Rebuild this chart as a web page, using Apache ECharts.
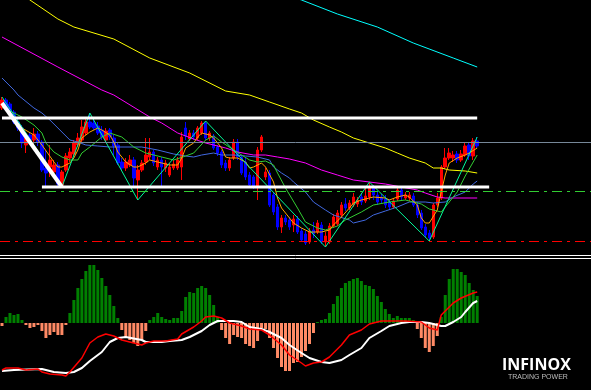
<!DOCTYPE html>
<html>
<head>
<meta charset="utf-8">
<script src="https://cdn.jsdelivr.net/npm/echarts@6/dist/echarts.min.js"></script>
<style>
html,body{margin:0;padding:0;background:#000;}
#c{width:591px;height:390px;}
</style>
</head>
<body>
<div id="c"></div>
<script>
// ---- DATA ----
const categories = Array.from({length: 148}, (_, i) => 'Bar ' + (i + 1));

const opens = [192,200,196,188,178,172,155,165,160,166,
158,132,133,128,135,115,130,142,146,155,
160,167,178,177,174,170,160,170,162,155,
138,132,135,140,120,130,138,143,148,133,
140,132,125,132,132,133,172,161,167,162,
167,177,162,164,153,148,137,132,142,158,
143,138,125,123,113,150,123,127,105,93,
73,82,80,75,81,69,66,58,70,68,
75,58,58,74,76,85,96,92,95,96,
103,99,103,112,105,103,101,98,93,101,
110,102,102,104,95,87,73,67,63,95,
102,133,142,142,146,140,145,155,144,159];
const closes = [200,193,188,178,172,157,162,160,166,158,
130,127,140,135,116,128,144,148,157,162,
173,178,173,172,167,163,169,163,154,137,
132,138,140,122,130,137,145,148,137,140,
133,137,133,136,140,163,164,167,163,172,
177,162,167,152,147,135,132,140,158,143,
127,123,115,113,150,163,128,95,88,73,
82,78,73,81,68,60,57,69,66,77,
58,64,74,83,87,95,92,97,103,100,
98,104,113,105,98,100,95,93,99,110,
103,105,105,95,85,72,65,62,95,102,
133,142,147,145,140,146,154,144,159,154];
const lows = [190,191,186,176,169,152,147,157,154,154,
128,113,123,124,113,113,128,138,144,153,
158,165,171,170,165,160,158,160,145,135,
130,129,133,113,100,128,135,140,134,130,
113,128,123,130,130,120,160,159,160,160,
165,160,159,150,144,132,129,129,140,140,
125,120,113,111,100,148,120,93,85,70,
67,75,70,68,66,58,55,56,62,66,
56,53,56,72,74,82,89,90,93,93,
95,97,100,100,95,97,92,90,91,99,
100,100,99,93,82,70,62,59,61,93,
100,131,140,138,137,138,143,140,140,152];
const highs = [203,202,198,190,182,175,167,168,172,169,
160,150,155,140,138,130,147,152,160,167,
180,181,187,180,178,174,172,172,165,157,
142,142,145,143,135,140,162,162,150,143,
143,140,137,140,143,168,178,170,170,174,
179,179,169,166,155,150,140,143,161,161,
145,142,128,125,153,165,132,130,108,96,
85,85,83,85,84,72,69,72,78,80,
78,68,77,86,90,98,102,100,107,103,
107,113,118,115,108,106,105,101,102,112,
112,108,108,107,98,90,76,70,97,107,
135,152,152,149,149,150,157,157,162,163];

// moving averages: [bar index, level]
const orangeMA = [[0,195],[1,192],[5,172],[8,165],[10,155],[13,138],[14,133],[15,133],[17,137],[18,142],[19,150],[20,162],[22,168],[24,172],[25,170],[27,165],[28,158],[29,148],[31,138],[33,133],[34,133],[36,137],[37,140],[39,138],[40,137],[42,135],[44,135],[45,142],[46,152],[48,157],[49,163],[50,167],[52,165],[53,162],[55,152],[56,143],[57,142],[59,142],[61,138],[62,132],[63,133],[65,137],[66,133],[68,118],[69,102],[70,92],[72,82],[73,77],[75,72],[77,68],[78,68],[80,68],[82,70],[83,75],[85,83],[87,92],[88,97],[90,100],[92,102],[93,103],[96,102],[97,100],[99,103],[101,105],[102,103],[104,95],[105,82],[106,77],[107,77],[109,90],[110,108],[111,125],[112,137],[114,142],[116,145],[117,147],[119,152]];
const greenMA = [[0,193],[5,183],[8,175],[10,167],[11,157],[13,148],[15,143],[17,140],[19,140],[20,147],[22,153],[25,163],[27,167],[30,163],[33,153],[36,147],[40,143],[43,140],[46,144],[48,147],[51,160],[53,164],[55,158],[58,150],[62,140],[64,138],[66,139],[68,135],[69,127],[71,112],[74,92],[76,78],[79,72],[81,70],[84,74],[86,80],[90,88],[93,95],[97,98],[101,100],[105,96],[107,91],[110,88],[111,93],[114,108],[116,124],[119,145]];
const blueMA = [[0,222],[3,210],[4,205],[8,192],[10,187],[12,180],[15,168],[17,160],[19,158],[21,155],[24,154],[27,153],[35,153],[39,150],[43,146],[46,144],[48,143],[50,145],[53,147],[55,145],[58,145],[61,144],[64,143],[67,140],[68,133],[70,127],[72,122],[73,118],[76,108],[78,98],[81,90],[83,85],[87,80],[88,77],[91,80],[93,85],[96,89],[99,93],[102,98],[106,98],[108,97],[111,98],[113,103],[116,108],[118,116],[119,119]];
const magentaMA = [[0,263],[14,233],[25,210],[28,205],[37,183],[40,177],[44,167],[48,161],[51,157],[56,152],[59,148],[63,145],[66,145],[69,143],[72,141],[76,137],[80,130],[84,125],[88,120],[92,118],[96,116],[104,110],[106,107],[109,103],[111,102],[119,102]];
const yellowMA = [[0,321],[7,300],[14,281],[18,273],[28,261],[37,242],[47,227],[56,209],[62,205],[67,198],[72,191],[75,187],[78,180],[82,173],[85,168],[88,162],[92,157],[96,152],[99,147],[102,142],[106,137],[108,132],[110,132],[112,130],[116,129],[119,127]];
const cyanMA = [[65,314],[75,300],[84,286],[94,273],[103,257],[113,242],[119,233]];
const zigzag = [[0,203],[15,113],[22,187],[34,100],[51,179],[81,53],[92,118],[107,59],[119,163]];

// drawn levels / trend lines
const topLine = [[0,182],[119,182]];
const baseLine = [[10,113],[122,113]];
const diagLine = [[0,197],[15,113]];
const grayLevel = 158, greenLevel = 109, redLevel = 59;

// MACD pane
const histogram = [-3,6,10,8,9,3,-2,-5,-4,-2,
-8,-15,-12,-9,-12,-12,-2,10,23,35,
44,52,58,58,53,45,37,28,17,5,
-7,-15,-17,-20,-23,-17,-8,3,6,10,
6,4,3,5,5,12,26,31,30,35,
37,35,28,18,6,-7,-15,-21,-12,-14,
-15,-21,-23,-25,-18,-5,-6,-15,-25,-35,
-44,-48,-48,-40,-39,-34,-28,-21,-10,1,
3,4,10,19,27,35,40,42,44,45,
42,38,37,34,27,21,14,9,5,7,
5,5,5,3,-6,-15,-25,-29,-23,-13,
6,28,44,54,54,51,48,40,33,27];
const signalLine = [[0,-48],[3,-47],[10,-46],[13,-49],[16,-50],[18,-49],[20,-45],[22,-38],[25,-29],[27,-19],[29,-15],[31,-14],[35,-17],[36,-19],[40,-19],[42,-18],[45,-17],[47,-14],[50,-8],[52,-2],[54,2],[58,2],[60,1],[62,-4],[65,-6],[67,-9],[70,-15],[72,-22],[75,-30],[77,-35],[80,-39],[82,-40],[85,-37],[87,-32],[90,-25],[92,-15],[95,-8],[97,-3],[100,0],[102,1],[105,1],[107,0],[110,-3],[111,-3],[113,1],[115,6],[116,11],[118,20],[119,22]];
const macdLine = [[0,-47],[1,-45],[4,-45],[6,-47],[9,-46],[10,-49],[12,-51],[15,-52],[16,-53],[17,-49],[20,-35],[22,-20],[24,-14],[26,-11],[28,-13],[30,-17],[33,-20],[35,-22],[36,-20],[38,-18],[41,-18],[44,-16],[45,-11],[48,-4],[50,2],[51,6],[53,7],[55,5],[57,0],[60,-3],[62,-6],[65,-7],[67,-12],[70,-22],[72,-32],[75,-40],[76,-43],[78,-40],[80,-39],[82,-34],[85,-22],[87,-12],[90,-7],[92,-1],[95,2],[98,2],[101,2],[105,1],[107,-5],[109,-7],[110,8],[113,20],[115,25],[118,30],[119,31]];

// ---- CHART ----
const candleData = opens.map((o, i) => [o, closes[i], lows[i], highs[i]]);
const chart = echarts.init(document.getElementById('c'), null, {renderer: 'canvas'});

function ln(name, data, color, width, extra) {
  return Object.assign({
    name: name, type: 'line', data: data, xAxisIndex: 0, yAxisIndex: 0,
    symbol: 'none', showSymbol: false, clip: true, silent: true,
    lineStyle: {color: color, width: width}, z: 3
  }, extra || {});
}

chart.setOption({
  backgroundColor: '#000000',
  animation: false,
  grid: [
    {left: 0, top: 0, width: 592, height: 255},
    {left: 0, top: 258, width: 592, height: 132}
  ],
  xAxis: [
    {type: 'category', data: categories, gridIndex: 0, boundaryGap: true,
     axisLine: {show: true, onZero: false, lineStyle: {color: '#ffffff', width: 1}},
     axisTick: {show: false}, axisLabel: {show: false}, splitLine: {show: false}},
    {type: 'category', data: categories, gridIndex: 1, position: 'top', boundaryGap: true,
     axisLine: {show: true, onZero: false, lineStyle: {color: '#ffffff', width: 1}},
     axisTick: {show: false}, axisLabel: {show: false}, splitLine: {show: false}}
  ],
  yAxis: [
    {type: 'value', gridIndex: 0, min: 45, max: 300, show: false, splitLine: {show: false}},
    {type: 'value', gridIndex: 1, min: -67, max: 65, show: false, splitLine: {show: false}}
  ],
  series: [
    {
      name: 'Price', type: 'candlestick', data: candleData, xAxisIndex: 0, yAxisIndex: 0,
      barWidth: 3, silent: true, z: 2,
      itemStyle: {color: '#ff0000', color0: '#0000ff', borderColor: '#ff0000', borderColor0: '#0000ff', borderWidth: 1},
      markLine: {
        silent: true, symbol: ['none', 'none'], label: {show: false}, animation: false,
        data: [
          {yAxis: grayLevel, lineStyle: {color: '#778899', width: 1, type: 'solid'}},
          {yAxis: greenLevel, lineStyle: {color: '#32cd32', width: 1, type: [10, 5, 3, 5]}},
          {yAxis: redLevel, lineStyle: {color: '#ff0000', width: 1, type: [10, 5, 3, 5]}}
        ]
      }
    },
    ln('Cyan MA', cyanMA, '#00ffff', 1),
    ln('Yellow MA', yellowMA, '#ffff00', 1),
    ln('Magenta MA', magentaMA, '#ff00ff', 1),
    ln('Blue MA', blueMA, '#4169e1', 1),
    ln('Green MA', greenMA, '#32cd32', 1),
    ln('Orange MA', orangeMA, '#ffa500', 1),
    ln('ZigZag', zigzag, '#00fa9a', 1),
    ln('Resistance', topLine, '#ffffff', 3, {z: 5}),
    ln('Support', baseLine, '#ffffff', 3, {z: 5}),
    ln('Trend', diagLine, '#ffffff', 4, {z: 5}),
    {
      name: 'Histogram', type: 'bar', data: histogram, xAxisIndex: 1, yAxisIndex: 1,
      barWidth: 3, silent: true,
      itemStyle: {color: function (p) { return p.value >= 0 ? '#008000' : '#ff8a65'; }}
    },
    {name: 'Signal', type: 'line', data: signalLine, xAxisIndex: 1, yAxisIndex: 1,
     symbol: 'none', silent: true, lineStyle: {color: '#ffffff', width: 2}, z: 4},
    {name: 'MACD', type: 'line', data: macdLine, xAxisIndex: 1, yAxisIndex: 1,
     symbol: 'none', silent: true, lineStyle: {color: '#ff0000', width: 1.5}, z: 5}
  ],
  graphic: [
    {type: 'text', left: 502, top: 357, z: 100,
     style: {text: 'INFINOX', fill: '#ffffff', fontSize: 16, fontWeight: 'bold', fontFamily: 'Open Sans'}},
    {type: 'text', left: 508, top: 374, z: 100,
     style: {text: 'TRADING POWER', fill: '#bdbdbd', fontSize: 7, fontFamily: 'Liberation Sans'}}
  ]
});
</script>
</body>
</html>
